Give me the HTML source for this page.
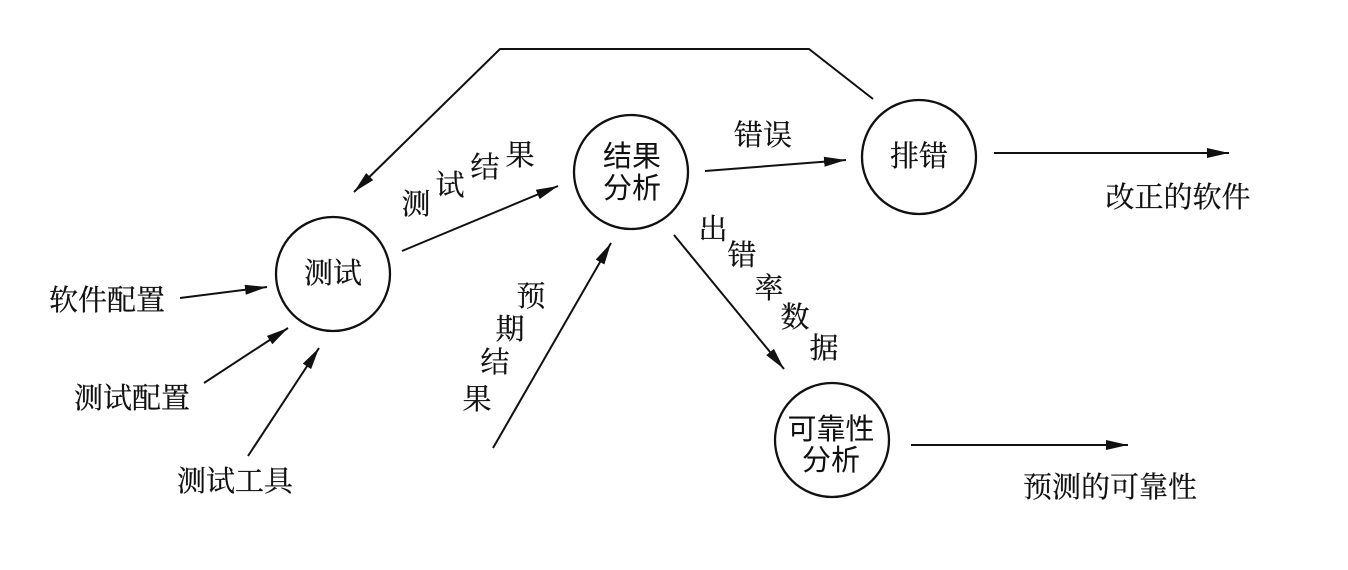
<!DOCTYPE html>
<html>
<head>
<meta charset="utf-8">
<style>
html,body{margin:0;padding:0;background:#fff;}
svg{display:block;}
.s{font-family:"Liberation Serif","Noto Serif CJK SC","Noto Serif CJK JP",serif;font-size:29px;fill:#111;stroke:#111;stroke-width:0.25px;}
.h{font-family:"Liberation Sans","Noto Sans CJK SC",sans-serif;font-size:29px;fill:#111;font-weight:400;}
</style>
</head>
<body>
<svg width="1348" height="570" viewBox="0 0 1348 570" xmlns="http://www.w3.org/2000/svg">
<defs>
<marker id="a" markerUnits="userSpaceOnUse" markerWidth="24" markerHeight="12" refX="22" refY="5" orient="auto">
<path d="M0,0 L22,5 L0,10 z" fill="#111"/>
</marker>
</defs>
<g fill="none" stroke="#111" stroke-width="2.3">
<circle cx="333" cy="274" r="57"/>
<circle cx="631" cy="172" r="57"/>
<circle cx="919" cy="157" r="57"/>
<circle cx="832" cy="440" r="57"/>
</g>
<g fill="none" stroke="#111" stroke-width="2" marker-end="url(#a)">
<polyline points="873,99 809,49 500,49 354,192"/>
<line x1="402" y1="251" x2="558" y2="186"/>
<line x1="705" y1="171" x2="846" y2="160"/>
<line x1="994" y1="153" x2="1229" y2="153"/>
<line x1="674" y1="235" x2="784" y2="369"/>
<line x1="493" y1="448" x2="611" y2="243"/>
<line x1="911" y1="445" x2="1128" y2="445"/>
<line x1="180" y1="298" x2="267" y2="287"/>
<line x1="204" y1="383" x2="288" y2="328"/>
<line x1="248" y1="456" x2="319" y2="348"/>
</g>
<g text-anchor="middle" dominant-baseline="central">
<text class="s" x="333" y="274">测试</text>
<text class="h" x="632" y="157">结果</text>
<text class="h" x="632" y="189">分析</text>
<text class="s" x="919" y="157">排错</text>
<text class="h" x="831" y="430">可靠性</text>
<text class="h" x="831" y="461">分析</text>
<text class="s" x="1178" y="198">改正的软件</text>
<text class="s" x="1110" y="488">预测的可靠性</text>
<text class="s" x="763" y="136">错误</text>
<text class="s" x="107" y="301">软件配置</text>
<text class="s" x="132" y="399">测试配置</text>
<text class="s" x="235" y="482">测试工具</text>
<text class="s" x="416" y="205">测</text>
<text class="s" x="450" y="186">试</text>
<text class="s" x="485" y="168">结</text>
<text class="s" x="520" y="156">果</text>
<text class="s" x="531" y="297">预</text>
<text class="s" x="510" y="330">期</text>
<text class="s" x="495" y="363">结</text>
<text class="s" x="477" y="400">果</text>
<text class="s" x="713" y="230">出</text>
<text class="s" x="742" y="256">错</text>
<text class="s" x="769" y="289">率</text>
<text class="s" x="795" y="318">数</text>
<text class="s" x="824" y="349">据</text>
</g>
</svg>
</body>
</html>
